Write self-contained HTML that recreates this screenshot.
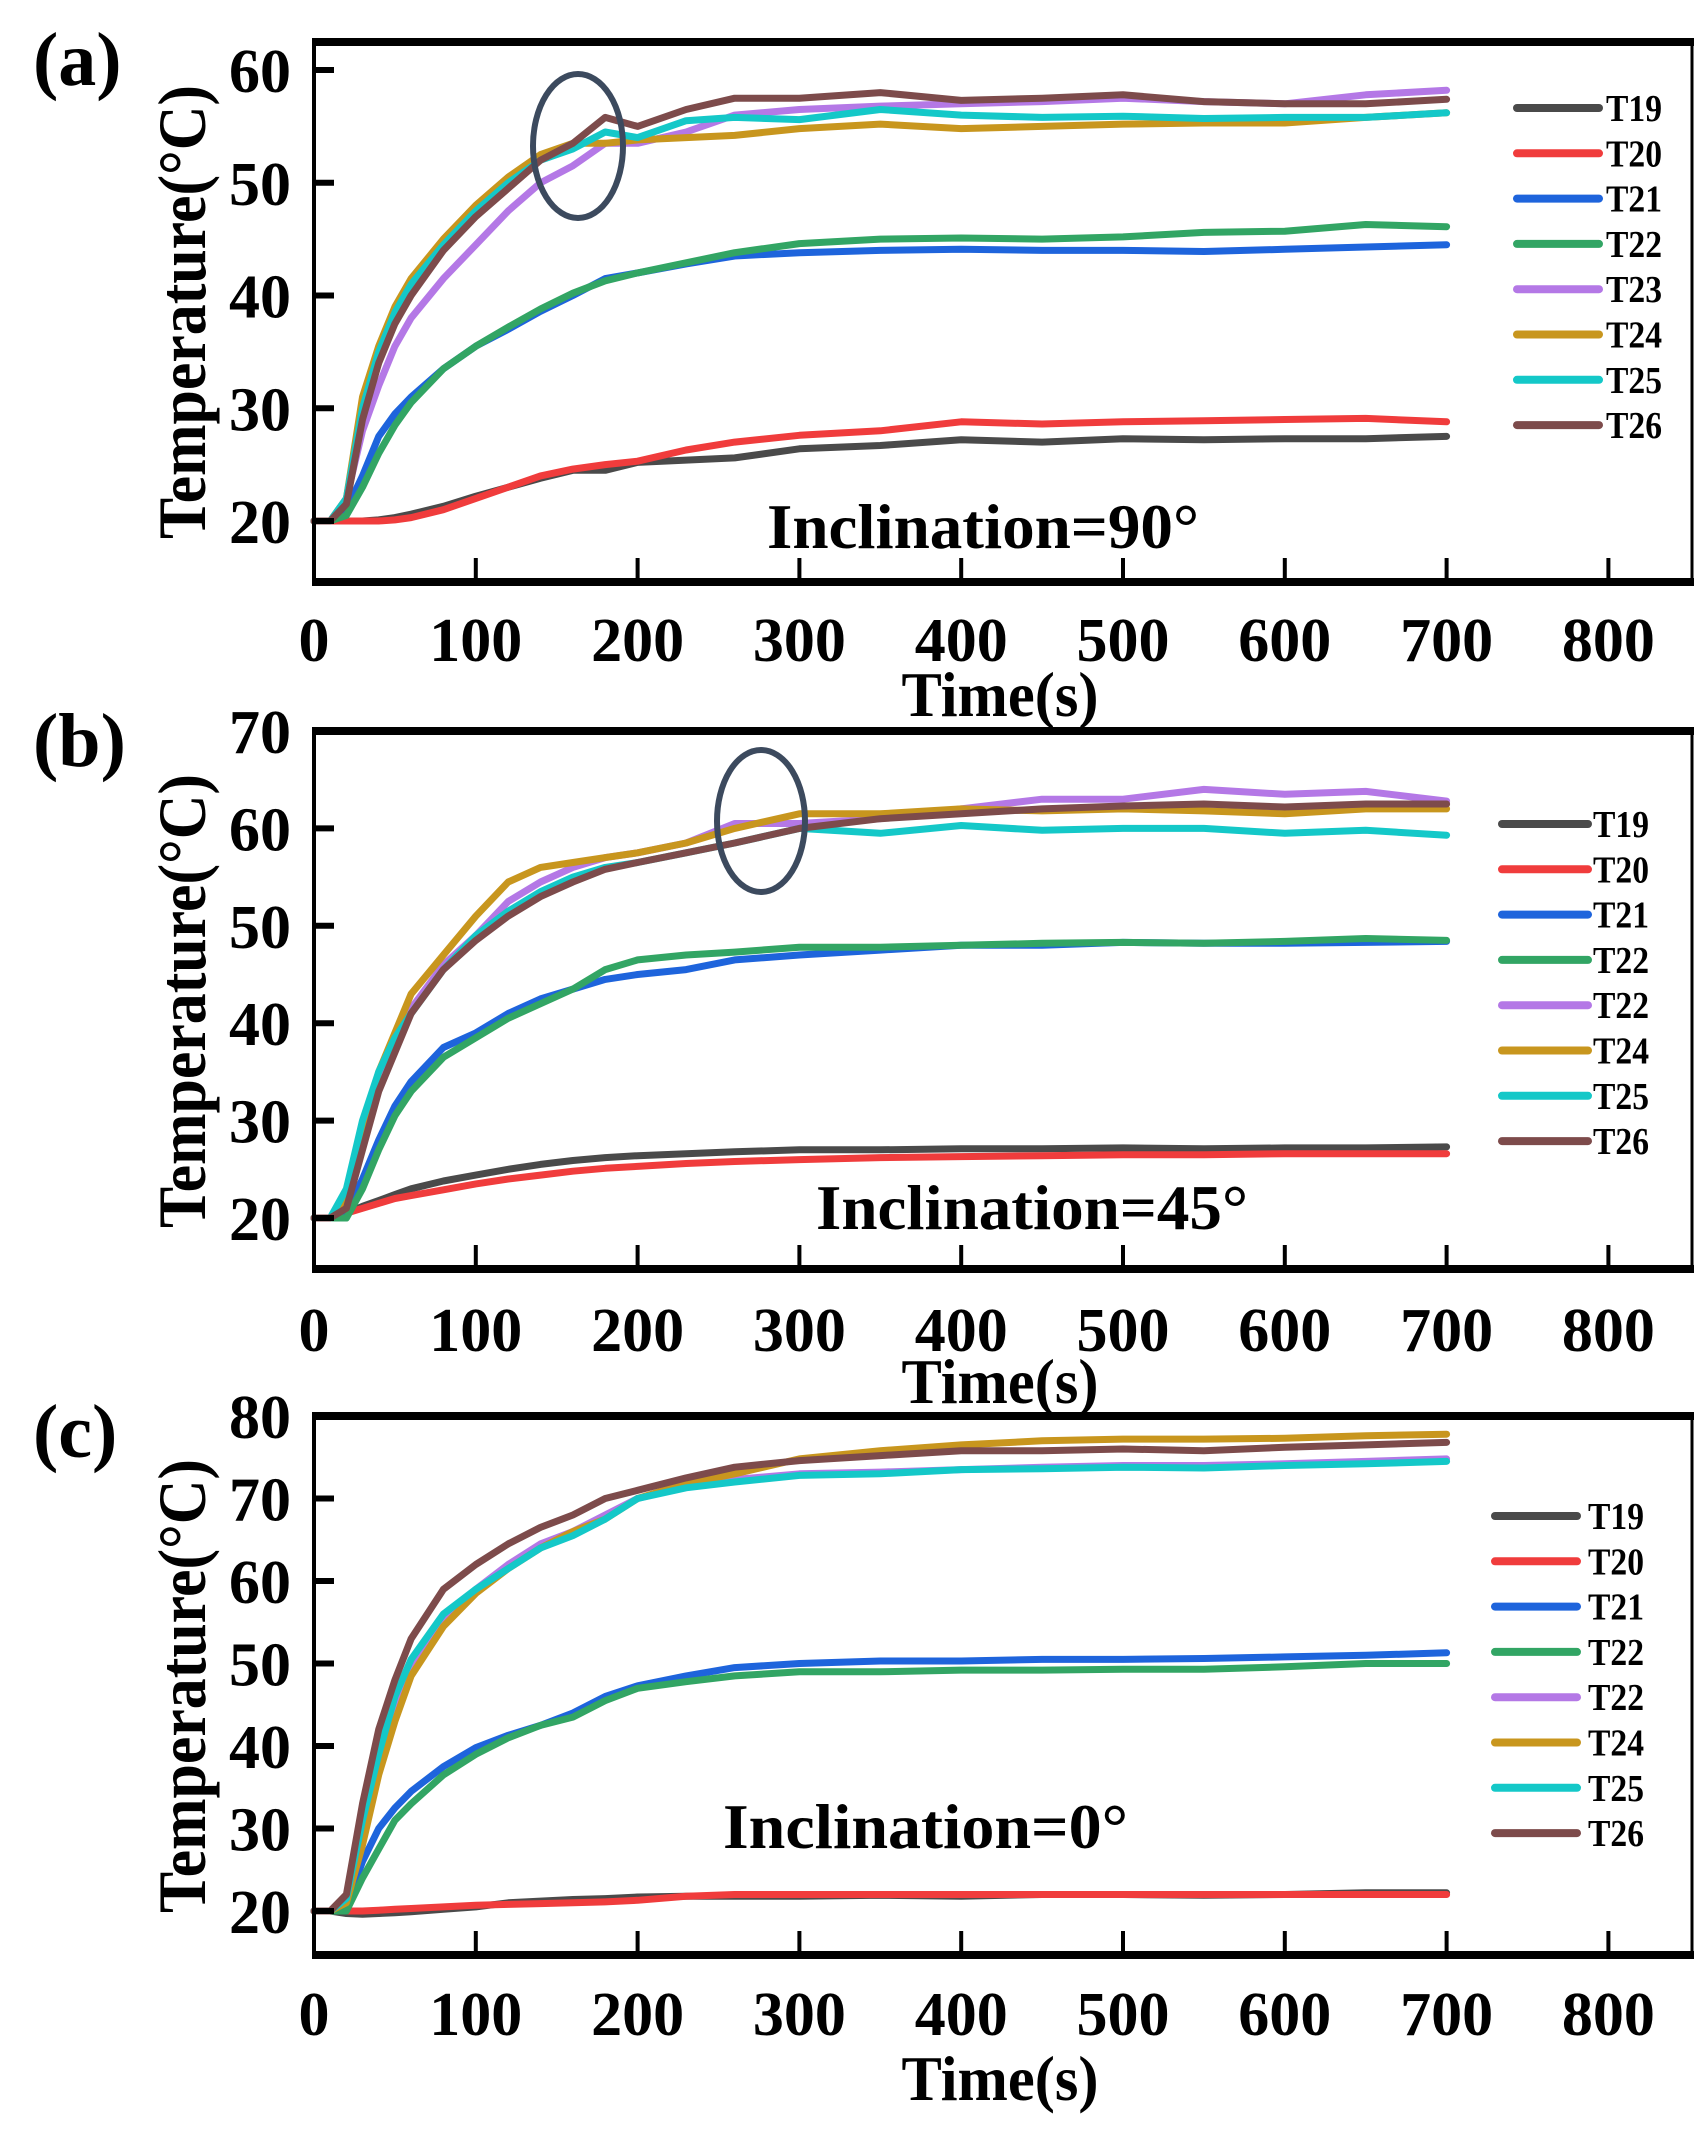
<!DOCTYPE html>
<html><head><meta charset="utf-8"><style>
html,body{margin:0;padding:0;background:#fff}
svg{display:block}
text{font-family:"Liberation Serif",serif;font-weight:bold;fill:#000}
</style></head><body>
<svg id="chart" width="1708" height="2141" viewBox="0 0 1708 2141" xmlns="http://www.w3.org/2000/svg"></svg>
<script>
const times=[0,10,20,30,40,50,60,80,100,120,140,160,180,200,230,260,300,350,400,450,500,550,600,650,700];
const seriesNames=["T19","T20","T21","T22","T23","T24","T25","T26"];
const legendA=["T19","T20","T21","T22","T23","T24","T25","T26"];
const legendB=["T19","T20","T21","T22","T22","T24","T25","T26"];
const colors=["#4a4a4a","#f03c3c","#1e64dc","#32a564","#b478e6","#c8961e","#14c8c8","#7d4b4b"];
const xTicks=[0,100,200,300,400,500,600,700,800];
const yTicksA=[20,30,40,50,60];
const yTicksB=[20,30,40,50,60,70];
const yTicksC=[20,30,40,50,60,70,80];
const aT19=[20,20,20,20,20.1,20.3,20.6,21.3,22.2,23,23.8,24.5,24.5,25.2,25.4,25.6,26.4,26.7,27.2,27,27.3,27.2,27.3,27.3,27.5];
const aT20=[20,20,20,20,20,20.1,20.3,21,22,23,24,24.6,25,25.3,26.3,27,27.6,28,28.8,28.6,28.8,28.9,29,29.1,28.8];
const aT21=[20,20,21,24,27.5,29.5,31,33.5,35.5,37,38.6,40,41.5,42,42.8,43.5,43.8,44,44.1,44,44,43.9,44.1,44.3,44.5];
const aT22=[20,20,20.5,23,26,28.5,30.5,33.5,35.5,37.2,38.8,40.2,41.3,42,42.9,43.8,44.6,45,45.1,45,45.2,45.6,45.7,46.3,46.1];
const aT23=[20,20,22,28,32,35.5,38,41.5,44.5,47.5,50,51.5,53.5,53.5,54.5,56,56.5,56.8,57,57.2,57.5,57.2,57,57.8,58.2];
const aT24=[20,20,22,31,35.5,39,41.5,45,48,50.5,52.5,53.5,53.5,53.8,54,54.2,54.8,55.2,54.8,55,55.2,55.3,55.3,55.8,56.2];
const aT25=[20,20,22,30,35,38.5,41,44.5,47.5,50,52,53,54.5,54,55.5,55.8,55.6,56.5,56,55.8,55.9,55.7,55.8,55.8,56.2];
const aT26=[20,20,21.5,29,34,37.5,40,44,47,49.5,52,53.5,55.8,55,56.5,57.5,57.5,58,57.3,57.5,57.8,57.2,57,57,57.4];
const bT19=[20,20,20.5,21.2,21.8,22.4,23,23.8,24.4,25,25.5,25.9,26.2,26.4,26.6,26.8,27,27,27.1,27.1,27.2,27.1,27.2,27.2,27.3];
const bT20=[20,20,20.5,21,21.5,22,22.3,22.9,23.5,24,24.4,24.8,25.1,25.3,25.6,25.8,26,26.2,26.3,26.4,26.5,26.5,26.6,26.6,26.6];
const bT21=[20,20,20.5,24,28,31.5,34,37.5,39,41,42.5,43.5,44.5,45,45.5,46.5,47,47.5,48,48,48.3,48.2,48.2,48.3,48.4];
const bT22=[20,20,20,23,27,30.5,33,36.5,38.5,40.5,42,43.5,45.5,46.5,47,47.3,47.8,47.8,48,48.2,48.3,48.2,48.4,48.7,48.5];
const bT23=[20,20,21.5,28,34,38,41.5,46,49,52.5,54.5,56,57,57.5,58.5,60.5,60.5,61,62,63,63,64,63.5,63.8,62.8];
const bT24=[20,20,22,29,35,39,43,47,51,54.5,56,56.5,57,57.5,58.5,60,61.5,61.5,62,61.8,62,61.8,61.5,62,62];
const bT25=[20,20,23,30,35,38.5,41,45.5,49,51.5,53.5,55,56,56.5,57.5,58.5,60,59.5,60.3,59.8,60,60,59.5,59.8,59.3];
const bT26=[20,20,21,27,33,37,41,45.5,48.5,51,53,54.5,55.8,56.5,57.5,58.5,60,61,61.5,62,62.3,62.5,62.2,62.5,62.5];
const cT19=[20,20,19.7,19.6,19.7,19.8,19.9,20.2,20.5,21,21.2,21.4,21.5,21.7,21.8,21.8,21.8,21.9,21.8,22,22,21.9,22,22.2,22.2];
const cT20=[20,20,20,20,20.1,20.2,20.3,20.5,20.7,20.8,20.9,21,21.1,21.3,21.8,22,22,22,22,22,22,22,22,22,22];
const cT21=[20,20,20.5,26,30,32.5,34.5,37.5,39.8,41.3,42.5,44,46,47.3,48.5,49.5,50,50.3,50.3,50.5,50.5,50.6,50.8,51,51.3];
const cT22=[20,20,20,24,27.5,31,33,36.5,39,41,42.5,43.5,45.5,47,47.8,48.5,49,49,49.2,49.2,49.3,49.3,49.6,50,50];
const cT23=[20,20,21.5,30,38.5,45,50,55.5,59,62,64.5,66,68,70,71.5,72.3,73,73.2,73.5,73.8,74,74,74.2,74.5,74.8];
const cT24=[20,20,21,28,36.5,43,48.5,54.5,58.5,61.5,64,66,67.5,70,71.8,73,74.8,75.8,76.5,77,77.2,77.2,77.3,77.6,77.8];
const cT25=[20,20,21.5,31,39,46,50.5,56,59,61.5,64,65.5,67.5,70,71.3,72,72.8,73,73.5,73.6,73.8,73.7,74,74.2,74.5];
const cT26=[20,20,22,33,42,48,53,59,62,64.5,66.5,68,70,71,72.5,73.8,74.6,75.2,75.8,75.8,76,75.8,76.2,76.5,76.8];

const NS="http://www.w3.org/2000/svg";
const svg=document.getElementById('chart');
function mk(tag,attrs,parent){const e=document.createElementNS(NS,tag);for(const k in attrs)e.setAttribute(k,attrs[k]);(parent||svg).appendChild(e);return e;}
const X0=314,XR=1692,XS=1.618;
function xs(t){return X0+t*XS;}

const panels=[
 {id:'a',top:42,bot:582,y20:521,ppu:11.275,yt:yTicksA,data:[aT19,aT20,aT21,aT22,aT23,aT24,aT25,aT26],leg:legendA,
  legX1:1517,legX2:1599,legTx:1606,legY0:108,letterY:85,tickBase:661,titleBase:716,ytitleCY:312,
  incl:"Inclination=90°",inclX:767,inclW:432,inclBase:548,ell:[578,146,45,72]},
 {id:'b',top:731,bot:1269,y20:1218,ppu:9.74,yt:yTicksB,data:[bT19,bT20,bT21,bT22,bT23,bT24,bT25,bT26],leg:legendB,
  legX1:1502,legX2:1588,legTx:1593,legY0:824,letterY:766,tickBase:1351,titleBase:1403,ytitleCY:1001,
  incl:"Inclination=45°",inclX:816,inclW:432,inclBase:1229,ell:[761,821,44,71]},
 {id:'c',top:1416,bot:1955,y20:1911,ppu:8.25,yt:yTicksC,data:[cT19,cT20,cT21,cT22,cT23,cT24,cT25,cT26],leg:legendB,
  legX1:1495,legX2:1577,legTx:1588,legY0:1516,letterY:1457,tickBase:2035,titleBase:2100,ytitleCY:1686,
  incl:"Inclination=0°",inclX:723,inclW:405,inclBase:1848,ell:null}
];

panels.forEach(p=>{
  const g=mk('g',{});
  
  
  const ys=v=>p.y20-(v-20)*p.ppu;
  // series
  p.data.forEach((arr,i)=>{
    const d=arr.map((v,j)=>(j?'L':'M')+xs(times[j]).toFixed(1)+','+ys(v).toFixed(1)).join('');
    const path=mk('path',{d:d,fill:'none',stroke:colors[i],'stroke-width':7,'stroke-linejoin':'round','stroke-linecap':'round'},g);
    
    
  });
  // frame
  const frame=mk('g',{},g);
  
  
  mk('line',{x1:X0,y1:p.top,x2:X0,y2:p.bot,stroke:'#000','stroke-width':4},frame);
  mk('line',{x1:XR,y1:p.top,x2:XR,y2:p.bot,stroke:'#000','stroke-width':3},frame);
  mk('line',{x1:X0-2,y1:p.top,x2:XR+2,y2:p.top,stroke:'#000','stroke-width':8},frame);
  mk('line',{x1:X0-2,y1:p.bot,x2:XR+2,y2:p.bot,stroke:'#000','stroke-width':8},frame);
  // x ticks and labels
  xTicks.forEach(t=>{
    if(t>0) mk('line',{x1:xs(t),y1:p.bot,x2:xs(t),y2:p.bot-24,stroke:'#000','stroke-width':4},g);
    const tx=mk('text',{x:xs(t),y:p.tickBase,'text-anchor':'middle','font-size':62},g);
    tx.textContent=t;
    
    
  });
  // y ticks
  p.yt.forEach(v=>{
    mk('line',{x1:X0,y1:ys(v),x2:X0+20,y2:ys(v),stroke:'#000','stroke-width':6},g);
    const ty=mk('text',{x:291,y:ys(v)+22,'text-anchor':'end','font-size':62},g);
    ty.textContent=v;
    
    
  });
  // axis titles
  const yt=mk('text',{x:0,y:0,'text-anchor':'middle','font-size':68,textLength:454,lengthAdjust:'spacingAndGlyphs',transform:`translate(205,${p.ytitleCY}) rotate(-90)`},g);
  yt.textContent='Temperature(°C)';
  
  
  const xt=mk('text',{x:1000,y:p.titleBase,'text-anchor':'middle','font-size':64,textLength:197,lengthAdjust:'spacingAndGlyphs'},g);
  xt.textContent='Time(s)';
  
  
  // panel letter
  const pl=mk('text',{x:33,y:p.letterY,'font-size':76},g);
  pl.textContent='('+p.id+')';
  
  
  // inclination
  const it=mk('text',{x:p.inclX,y:p.inclBase,'font-size':64,textLength:p.inclW,lengthAdjust:'spacingAndGlyphs'},g);
  it.textContent=p.incl;
  
  
  // legend
  p.leg.forEach((name,i)=>{
    const yy=p.legY0+i*45.3;
    const le=mk('g',{},g);
    
    
    mk('line',{x1:p.legX1,y1:yy,x2:p.legX2,y2:yy,stroke:colors[i],'stroke-width':8,'stroke-linecap':'round'},le);
    const lt=mk('text',{x:p.legTx,y:yy+13,'font-size':38,textLength:56,lengthAdjust:'spacingAndGlyphs'},le);
    lt.textContent=name;
  });
  if(p.ell){
    const el=mk('ellipse',{cx:p.ell[0],cy:p.ell[1],rx:p.ell[2],ry:p.ell[3],fill:'none',stroke:'#3c4a5e','stroke-width':6},g);
    
    
  }
});
</script>
</body></html>
